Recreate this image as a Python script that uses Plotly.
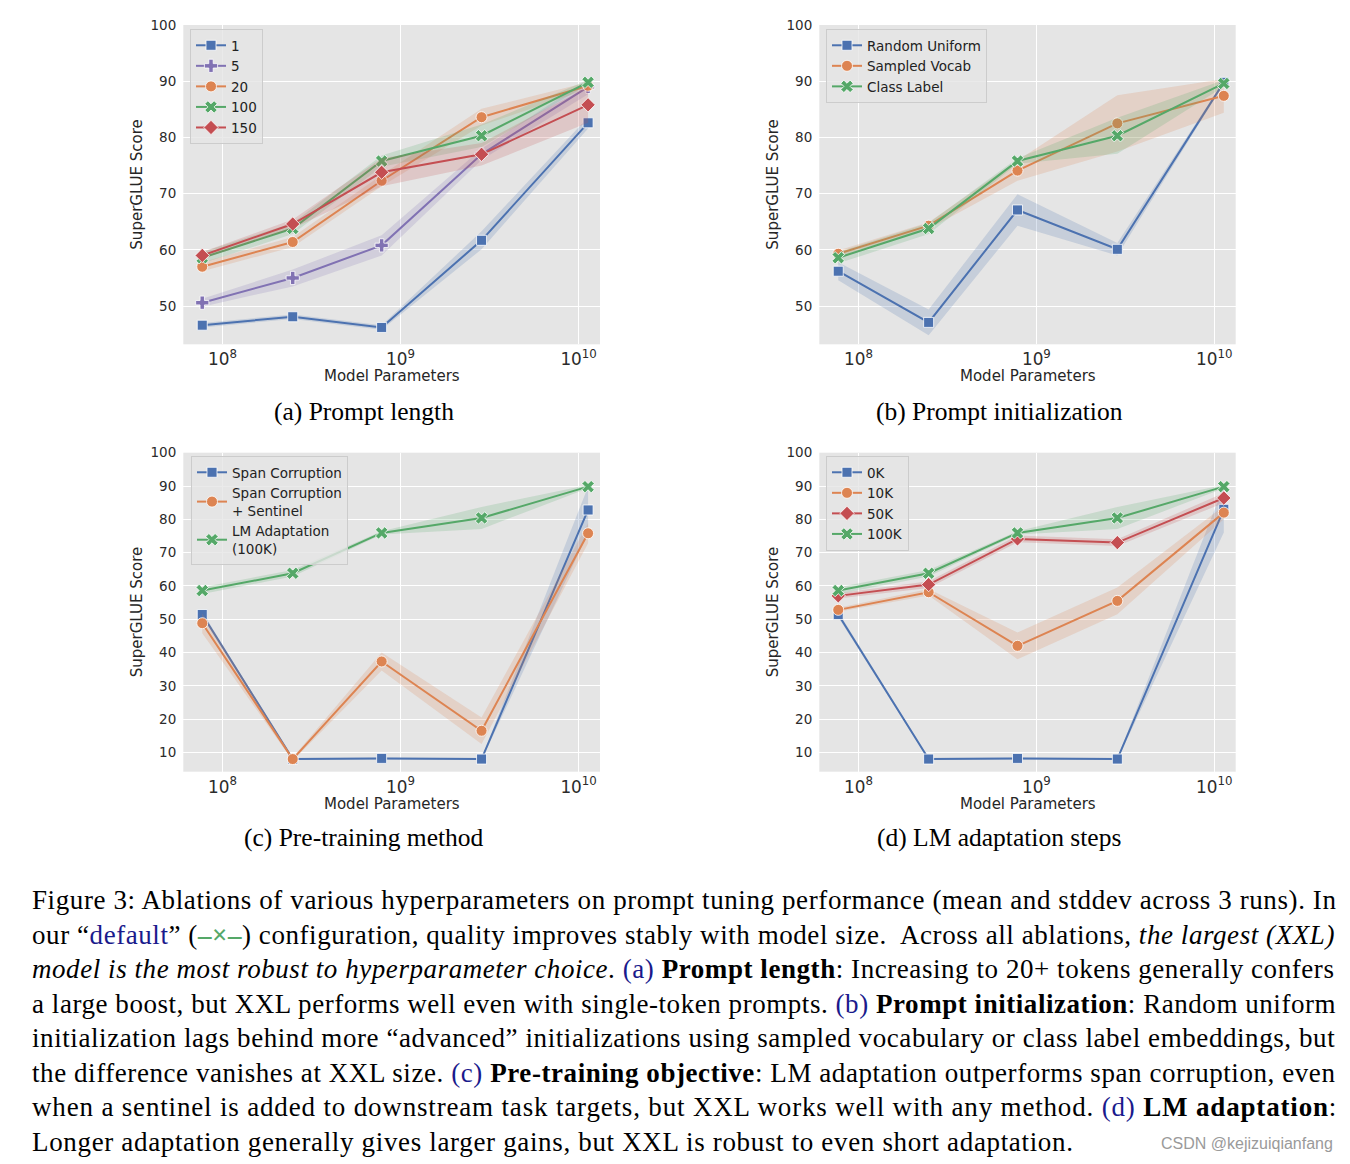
import plotly.graph_objects as go

# ---------------- data ----------------
model_params = [7.7e7, 2.48e8, 7.83e8, 2.85e9, 1.13e10]

# (a) Prompt length
a_labels = ["1", "5", "20", "100", "150"]
a_mean_1 = [46.6, 48.1, 46.2, 61.7, 82.6]
a_std_1 = [0.4, 0.4, 0.4, 1.6, 1.0]
a_mean_5 = [50.6, 55.0, 60.8, 77.0, 89.0]
a_std_5 = [0.7, 1.5, 1.8, 1.0, 1.3]
a_mean_20 = [57.0, 61.4, 72.3, 83.6, 89.2]
a_std_20 = [0.8, 0.9, 1.0, 1.5, 0.6]
a_mean_100 = [58.6, 63.8, 75.8, 80.3, 89.8]
a_std_100 = [1.0, 1.0, 1.0, 2.0, 0.4]
a_mean_150 = [59.0, 64.6, 73.8, 77.0, 85.8]
a_std_150 = [0.6, 0.8, 2.5, 2.0, 3.2]

# (b) Prompt initialization
b_labels = ["Random Uniform", "Sampled Vocab", "Class Label"]
b_mean_rand = [56.2, 47.1, 67.1, 60.1, 89.8]
b_std_rand = [1.6, 2.3, 2.8, 1.1, 0.3]
b_mean_vocab = [59.3, 64.3, 74.1, 82.5, 87.4]
b_std_vocab = [0.6, 0.6, 1.8, 5.0, 3.0]
b_mean_class = [58.6, 63.8, 75.8, 80.3, 89.6]
b_std_class = [1.0, 1.0, 0.5, 3.2, 0.6]

# (c) Pre-training method
c_labels = ["Span Corruption", "Span Corruption<br>+ Sentinel", "LM Adaptation<br>(100K)"]
c_mean_span = [51.4, 8.0, 8.2, 8.0, 82.8]
c_std_span = [0.8, 0.3, 0.3, 0.3, 7.0]
c_mean_sent = [48.8, 8.0, 37.3, 16.5, 75.8]
c_std_sent = [3.0, 0.5, 2.7, 4.0, 3.0]
c_mean_lm = [58.6, 63.8, 75.9, 80.4, 89.8]
c_std_lm = [1.0, 1.0, 0.5, 3.3, 0.5]

# (d) LM adaptation steps
d_labels = ["0K", "10K", "50K", "100K"]
d_mean_0k = [51.4, 8.0, 8.2, 8.0, 83.0]
d_std_0k = [0.8, 0.3, 0.3, 0.3, 7.0]
d_mean_10k = [52.8, 58.1, 42.0, 55.5, 82.0]
d_std_10k = [0.6, 1.0, 4.0, 4.0, 2.0]
d_mean_50k = [57.0, 60.4, 74.1, 73.0, 86.4]
d_std_50k = [0.8, 1.0, 1.0, 1.0, 1.5]
d_mean_100k = [58.6, 63.8, 75.9, 80.4, 89.8]
d_std_100k = [1.0, 1.0, 0.5, 3.3, 0.5]

subcaptions = ["(a) Prompt length", "(b) Prompt initialization",
               "(c) Pre-training method", "(d) LM adaptation steps"]

# ---------------- style ----------------
BLUE, ORANGE, GREEN, RED, PURPLE = "#4C72B0", "#DD8452", "#55A868", "#C44E52", "#8172B3"
W, H = 1350, 1164


def rgba(hexc, a):
    hexc = hexc.lstrip("#")
    r, g, b = int(hexc[0:2], 16), int(hexc[2:4], 16), int(hexc[4:6], 16)
    return f"rgba({r},{g},{b},{a})"


MSIZE = {"square": 10, "cross": 11, "circle": 11, "x": 11, "diamond": 11}

fig = go.Figure()


def add_series(idx, name, mean, std, color, symbol, legend):
    ax = "" if idx == 1 else str(idx)
    upper = [m + s for m, s in zip(mean, std)]
    lower = [m - s for m, s in zip(mean, std)]
    fig.add_trace(go.Scatter(
        x=model_params + model_params[::-1], y=upper + lower[::-1],
        fill="toself", fillcolor=rgba(color, 0.2), line=dict(width=0),
        mode="lines", hoverinfo="skip", showlegend=False,
        xaxis="x" + ax, yaxis="y" + ax))
    fig.add_trace(go.Scatter(
        x=model_params, y=mean, name=name, mode="lines+markers",
        line=dict(color=color, width=2),
        marker=dict(symbol=symbol, size=MSIZE[symbol], color=color,
                    line=dict(color="white", width=0.8)),
        xaxis="x" + ax, yaxis="y" + ax, legend=legend))


panels = [
    (1, "legend", [(a_labels[0], a_mean_1, a_std_1, BLUE, "square"),
                   (a_labels[1], a_mean_5, a_std_5, PURPLE, "cross"),
                   (a_labels[2], a_mean_20, a_std_20, ORANGE, "circle"),
                   (a_labels[3], a_mean_100, a_std_100, GREEN, "x"),
                   (a_labels[4], a_mean_150, a_std_150, RED, "diamond")]),
    (2, "legend2", [(b_labels[0], b_mean_rand, b_std_rand, BLUE, "square"),
                    (b_labels[1], b_mean_vocab, b_std_vocab, ORANGE, "circle"),
                    (b_labels[2], b_mean_class, b_std_class, GREEN, "x")]),
    (3, "legend3", [(c_labels[0], c_mean_span, c_std_span, BLUE, "square"),
                    (c_labels[1], c_mean_sent, c_std_sent, ORANGE, "circle"),
                    (c_labels[2], c_mean_lm, c_std_lm, GREEN, "x")]),
    (4, "legend4", [(d_labels[0], d_mean_0k, d_std_0k, BLUE, "square"),
                    (d_labels[1], d_mean_10k, d_std_10k, ORANGE, "circle"),
                    (d_labels[2], d_mean_50k, d_std_50k, RED, "diamond"),
                    (d_labels[3], d_mean_100k, d_std_100k, GREEN, "x")]),
]
for idx, leg, series in panels:
    for name, m, s, c, sym in series:
        add_series(idx, name, m, s, c, sym, leg)

# plot areas in pixels: (left, right, top, bottom)
boxes = {1: (183.3, 600.0, 25.0, 344.3), 2: (819.3, 1235.7, 25.0, 344.3),
         3: (183.3, 600.0, 452.7, 771.7), 4: (819.3, 1235.7, 452.7, 771.7)}
yranges = {1: [43.2, 100], 2: [43.2, 100], 3: [4.2, 100], 4: [4.2, 100]}
yticks = {1: list(range(50, 101, 10)), 2: list(range(50, 101, 10)),
          3: list(range(10, 101, 10)), 4: list(range(10, 101, 10))}

TICKFONT = dict(family="DejaVu Sans", size=13.5, color="#2b2b2b")
layout = dict(width=W, height=H, margin=dict(l=0, r=0, t=0, b=0, autoexpand=False),
              paper_bgcolor="white", plot_bgcolor="#E5E5E5", showlegend=True)
for i, (l, r, t, b) in boxes.items():
    ax = "" if i == 1 else str(i)
    layout["xaxis" + ax] = dict(
        type="log", range=[7.78, 10.12], domain=[l / W, r / W],
        anchor="y" + ax, dtick=1, exponentformat="power", showgrid=True,
        gridcolor="white", gridwidth=1, zeroline=False, showline=False,
        ticks="", tickfont=TICKFONT, ticklabelstandoff=3, automargin=False)
    layout["yaxis" + ax] = dict(
        range=yranges[i], domain=[1 - b / H, 1 - t / H], anchor="x" + ax,
        tickvals=yticks[i], showgrid=True, gridcolor="white", gridwidth=1,
        zeroline=False, showline=False, ticks="", tickfont=TICKFONT,
        ticklabelstandoff=6, automargin=False)

LEGFONT = dict(family="DejaVu Sans", size=13.5, color="#222222")
leg_pos = {"legend": (190, 29), "legend2": (826, 29),
           "legend3": (191, 456), "legend4": (826, 456)}
for k, (px, py) in leg_pos.items():
    layout[k] = dict(x=px / W, y=1 - py / H, xanchor="left", yanchor="top",
                     bgcolor="rgba(229,229,229,0.8)", bordercolor="#CCCCCC",
                     borderwidth=1, font=LEGFONT, tracegroupgap=0)

ann = []
AXFONT = dict(family="DejaVu Sans", size=15, color="#262626")
ylab_x = {1: 137, 2: 773, 3: 137, 4: 773}
xlab_y = {1: 376.5, 2: 376.5, 3: 804, 4: 804}
sub_pos = {1: (364, 411.5), 2: (999, 411.5), 3: (364, 837), 4: (999, 837)}
for i, (l, r, t, b) in boxes.items():
    ann.append(dict(text="SuperGLUE Score", x=ylab_x[i] / W, y=1 - (t + b) / 2 / H,
                    xref="paper", yref="paper", textangle=-90, showarrow=False,
                    font=AXFONT, xanchor="center", yanchor="middle"))
    ann.append(dict(text="Model Parameters", x=(l + r) / 2 / W, y=1 - xlab_y[i] / H,
                    xref="paper", yref="paper", showarrow=False, font=AXFONT,
                    xanchor="center", yanchor="middle"))
    sx, sy = sub_pos[i]
    ann.append(dict(text=subcaptions[i - 1], x=sx / W, y=1 - sy / H, xref="paper",
                    yref="paper", showarrow=False,
                    font=dict(family="Liberation Serif", size=25.5, color="black"),
                    xanchor="center", yanchor="middle"))

NAVY = "#1a1a8c"


def nv(s):
    return f"<span style='color:{NAVY}'>{s}</span>"


caption_lines = [
    "Figure 3: Ablations of various hyperparameters on prompt tuning performance (mean and stddev across 3 runs). In",
    f"our “{nv('default')}” (<span style='color:{GREEN}'><b>–×–</b></span>) configuration, quality improves stably with model size.  Across all ablations, <i>the largest (XXL)</i>",
    f"<i>model is the most robust to hyperparameter choice</i>. {nv('(a)')} <b>Prompt length</b>: Increasing to 20+ tokens generally confers",
    f"a large boost, but XXL performs well even with single-token prompts. {nv('(b)')} <b>Prompt initialization</b>: Random uniform",
    "initialization lags behind more “advanced” initializations using sampled vocabulary or class label embeddings, but",
    f"the difference vanishes at XXL size. {nv('(c)')} <b>Pre-training objective</b>: LM adaptation outperforms span corruption, even",
    f"when a sentinel is added to downstream task targets, but XXL works well with any method. {nv('(d)')} <b>LM adaptation</b>:",
    "Longer adaptation generally gives larger gains, but XXL is robust to even short adaptation.",
]
caption_spacing = [0.60, 0.565, 0.56, 0.55, 0.58, 0.57, 0.83, 0.66]
for k, line in enumerate(caption_lines):
    yc = 900 + k * 34.5
    txt = f"<span style='letter-spacing:{caption_spacing[k]}px'>{line}</span>"
    ann.append(dict(text=txt, x=30 / W, y=1 - yc / H, xref="paper", yref="paper",
                    showarrow=False, xanchor="left", yanchor="middle",
                    font=dict(family="Liberation Serif", size=27, color="black")))

ann.append(dict(text="CSDN @kejizuiqianfang", x=1335 / W, y=1 - 1143 / H,
                xref="paper", yref="paper", showarrow=False, xanchor="right",
                yanchor="middle", font=dict(family="Liberation Sans", size=16, color="#9a9a9a")))

layout["annotations"] = ann
fig.update_layout(**layout)
fig.write_html("out.html")
